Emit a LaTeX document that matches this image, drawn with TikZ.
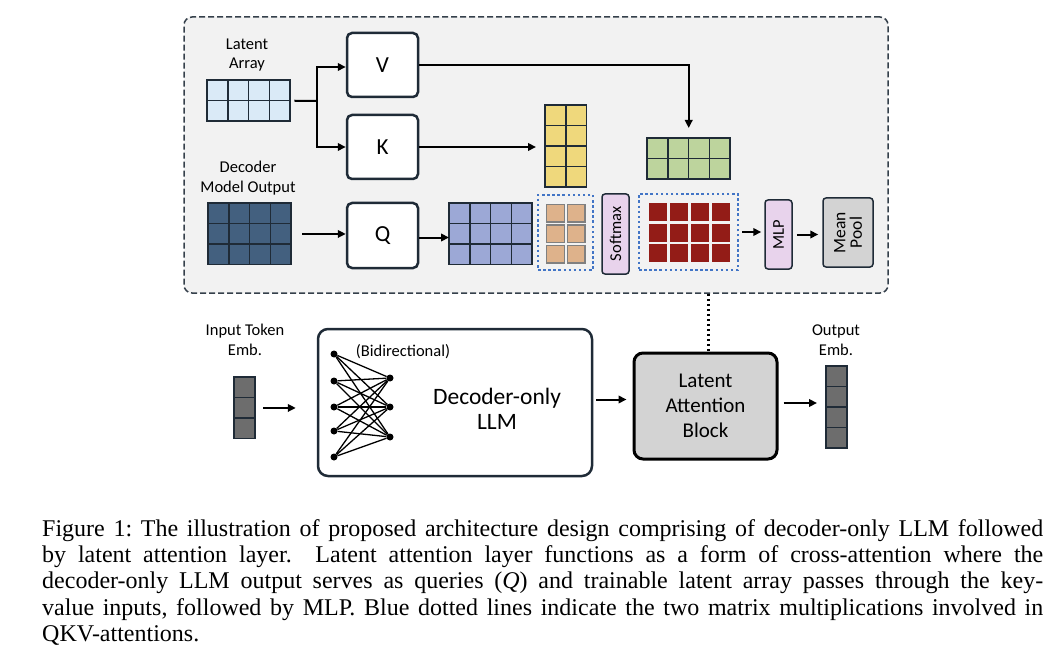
\documentclass[tikz,border=0pt]{standalone}
\usepackage{fontspec}
\setmainfont{Carlito}
\newfontfamily\capfont{Liberation Serif}
\usepackage{tikz}
\usetikzlibrary{arrows.meta,calc}

\definecolor{panelbg}{HTML}{F2F2F2}
\definecolor{edge}{HTML}{1F2B37}
\definecolor{latfill}{HTML}{DAEAF7}
\definecolor{decfill}{HTML}{43607F}
\definecolor{qfill}{HTML}{9CA8D6}
\definecolor{kfill}{HTML}{EFD87C}
\definecolor{vfill}{HTML}{BDD49D}
\definecolor{scorefill}{HTML}{DEB28B}
\definecolor{outfill}{HTML}{931C17}
\definecolor{pinkfill}{HTML}{E8D3EC}
\definecolor{greyfill}{HTML}{D3D3D3}
\definecolor{embfill}{HTML}{6D6D6D}
\definecolor{dotblue}{HTML}{4275C6}

% grid of cells: name, x, y (top left), columns, rows, style, gap
\newcommand{\matgrid}[7]{%
  \node[inner sep=0pt, minimum width=#4*20.75pt, minimum height=#5*20.5pt, anchor=north west] (#1) at (#2,#3) {};
  \foreach \i in {1,...,#4}
    \foreach \j in {1,...,#5}
      \draw[#6] ({#2+(\i-1)*20.75+#7},{#3+(\j-1)*20.5+#7}) rectangle ({#2+\i*20.75-#7},{#3+\j*20.5-#7});
}

\tikzset{
  arrow/.style={line width=2pt, -{Triangle[length=8pt,width=7.5pt]}},
  cell/.style={draw=edge, line width=1.5pt},
  opbox/.style={draw=edge, line width=2.5pt, fill=white, rounded corners=5pt, font=\fontsize{23}{26}\selectfont},
  slimbox/.style={draw=edge, line width=1.5pt, fill=pinkfill, rounded corners=3pt},
  dotbox/.style={draw=dotblue, line width=2.5pt, dash pattern=on 2.5pt off 2.6pt},
  label/.style={align=center, font=\fontsize{16.5}{19.5}\selectfont},
  netnode/.style={circle, fill=black, inner sep=0pt, minimum size=7pt}
}

\begin{document}
\begin{tikzpicture}[x=1pt, y=-1pt]

    %% Background
    \useasboundingbox (0,0) rectangle (1064,668);

    % Latent attention panel
    \node[draw=edge!90, fill=panelbg, line width=1.5pt, dash pattern=on 6pt off 3pt, rounded corners=8pt,
      minimum width=704pt, minimum height=276pt] (panel) at (536,155) {};

    % Inputs
    \node[label] (latlabel) at (247,55) {Latent\\Array};
    \matgrid{latarr}{207}{80}{4}{2}{cell, fill=latfill}{0}
    \node[label] (declabel) at (248,178) {Decoder\\Model Output};
    \matgrid{decmat}{208}{203}{4}{3}{cell, fill=decfill}{0}

    % V, K, Q
    \node[opbox, minimum width=71pt, minimum height=64pt] (vbox) at (382.5,65) {V};
    \node[opbox, minimum width=71pt, minimum height=64pt] (kbox) at (382.5,147) {K};
    \node[opbox, minimum width=71pt, minimum height=65pt] (qbox) at (382.5,235.5) {Q};

    % Matrices
    \matgrid{qmat}{449}{203}{4}{3}{cell, fill=qfill}{0}
    \matgrid{kmat}{545}{105}{2}{4}{cell, fill=kfill}{0}
    \matgrid{vmat}{647}{138}{4}{2}{cell, fill=vfill}{0}
    \matgrid{scoremat}{545}{203}{2}{3}{draw=gray, line width=1.2pt, fill=scorefill}{1.5}
    \matgrid{outmat}{648}{202}{4}{3}{draw=none, fill=outfill}{1.3}

    % Matrix multiplications
    \node[dotbox, minimum width=55pt, minimum height=75pt] (scorebox) at (565.5,232.5) {};
    \node[dotbox, minimum width=99pt, minimum height=76pt] (outbox) at (688.5,232) {};

    % Softmax, MLP, pooling
    \node[slimbox, minimum width=27pt, minimum height=80pt] (softmax) at (615.5,234) {};
    \node[rotate=90, font=\fontsize{16.5}{18}\selectfont] (softmaxtext) at (softmax) {Softmax};
    \node[slimbox, minimum width=27pt, minimum height=69pt] (mlp) at (778.5,234.5) {};
    \node[rotate=90, font=\fontsize{16.5}{18}\selectfont] (mlptext) at (mlp) {MLP};
    \node[slimbox, fill=greyfill, minimum width=50pt, minimum height=69pt] (pool) at (848,232.5) {};
    \node[rotate=90, align=center, font=\fontsize{17.5}{16.5}\selectfont] (pooltext) at (pool) {Mean\\Pool};

    % Connections in the panel
    \coordinate (split) at (317,101);
    \draw[line width=2pt, shorten <=4pt] (latarr.east) -- (split);
    \draw[arrow] (split) |- ([yshift=-2pt]vbox.west);
    \draw[arrow] (split) |- (kbox.west);
    \draw[arrow, shorten >=10pt] (vbox.east) -| (vmat.north);
    \draw[arrow, shorten >=9pt] (kbox.east) -- (kbox.east -| kmat.west);
    \draw[arrow, shorten <=11pt] (decmat.east) -- (decmat.east -| qbox.west);
    \draw[arrow] ([yshift=-2pt]qbox.east) -- ([yshift=-2pt]qbox.east -| qmat.west);
    \draw[arrow, shorten <=3pt, shorten >=3pt] (outbox.east) -- (outbox.east -| mlp.west);
    \draw[arrow, shorten <=4pt, shorten >=4pt] (mlp.east) -- (mlp.east -| pool.west);

    % Lower row
    \node[label] (inlabel) at (245,340) {Input Token\\Emb.};
    \matgrid{inemb}{234}{377}{1}{3}{cell, fill=embfill}{0}
    \node[draw=edge, line width=2.5pt, fill=white, rounded corners=10pt,
      minimum width=274pt, minimum height=147pt] (llm) at (455,402.5) {};
    \node[font=\fontsize{16.5}{18}\selectfont] (bidir) at (403,352) {(Bidirectional)};
    \node[align=center, font=\fontsize{23.5}{25.5}\selectfont] (llmtext) at (497,409) {Decoder-only\\LLM};
    \node[draw=black, line width=3pt, fill=greyfill, rounded corners=9pt, align=center,
      minimum width=143pt, minimum height=106pt, font=\fontsize{21}{25}\selectfont] (lab) at (705.5,406) {Latent\\Attention\\Block};
    \node[label] (outlabel) at (836,340) {Output\\Emb.};
    \matgrid{outemb}{826}{366}{1}{4}{cell, fill=embfill}{0}

    % Bidirectional layer
    \foreach \y [count=\n] in {354,381,407,431,457}
      \node[netnode] (a\n) at (334,\y) {};
    \foreach \y [count=\n] in {378,407,437}
      \node[netnode] (b\n) at (390,\y) {};
    \foreach \n in {1,...,5}
      \foreach \m in {1,2,3}
        \draw[line width=1.3pt] (a\n) -- (b\m);

    % Connections below
    \draw[arrow, shorten <=8pt, shorten >=21pt] (inemb.east) -- (inemb.east -| llm.west);
    \draw[arrow, shorten <=3pt, shorten >=6pt] ([yshift=3pt]llm.east) -- ([yshift=3pt]llm.east -| lab.west);
    \draw[arrow, shorten <=5pt, shorten >=9pt] ([yshift=3pt]lab.east) -- ([yshift=3pt]lab.east -| outemb.west);
    \draw[line width=2.5pt, dash pattern=on 2.5pt off 2.5pt] ([xshift=3pt]lab.north |- panel.south) -- ([xshift=3pt]lab.north);

    % Caption
    \node[anchor=north west, text width=1001pt, inner sep=0pt, align=justify,
      font=\capfont\fontsize{24}{26.3}\selectfont\frenchspacing] (caption) at (42,519)
      {Figure 1: The illustration of proposed architecture design comprising of decoder-only LLM followed\linebreak
       by latent attention layer.\ \ Latent attention layer functions as a form of cross-attention where the\linebreak
       decoder-only LLM output serves as queries (\textit{Q}) and trainable latent array passes through the key-\linebreak
       value inputs, followed by MLP. Blue dotted lines indicate the two matrix multiplications involved in\linebreak
       QKV-attentions.\par};

\end{tikzpicture}
\end{document}
